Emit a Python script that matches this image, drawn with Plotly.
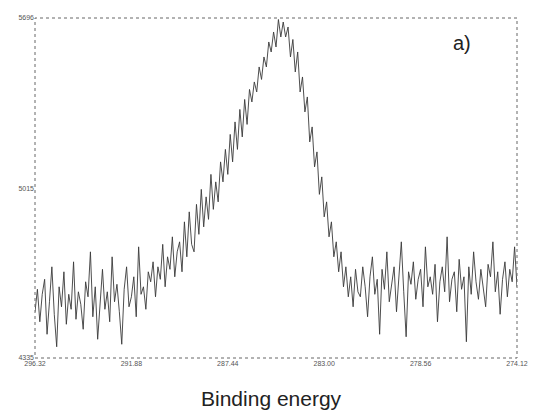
import numpy as np
import plotly.graph_objects as go

# Binding energy grid (eV), reversed axis
e_start = 296.32
e_end = 274.12

intensity = [
    4520, 4610, 4480, 4590, 4650, 4430, 4560, 4700, 4510, 4380,
    4620, 4540, 4680, 4470, 4590, 4530, 4720, 4490, 4600, 4550,
    4450, 4640, 4580, 4760, 4500, 4620, 4410, 4570, 4690, 4530,
    4600, 4480, 4740, 4560, 4630, 4520, 4390, 4610, 4700, 4540,
    4580, 4660, 4500, 4780, 4590, 4620, 4530, 4680,
    4640, 4720, 4580, 4700, 4650, 4790, 4620, 4740, 4690, 4820, 4660, 4760,
    4800, 4680, 4880, 4740, 4920, 4790, 4760, 4950, 4830, 5010, 4860, 4980, 4890, 5070, 4930,
    5040, 4960, 5120, 5040, 5170, 5070, 5230, 5120, 5280, 5170, 5330, 5220, 5370, 5270, 5410,
    5360, 5440, 5400, 5500, 5450, 5540, 5500, 5600, 5560, 5640, 5580, 5690, 5620, 5680,
    5620, 5660, 5540, 5610, 5480, 5560, 5400, 5460,
    5320, 5380, 5200, 5260, 5100, 5160, 4990, 5060,
    4900, 4960, 4820, 4880, 4740, 4800, 4680, 4760,
    4620, 4700, 4580, 4660, 4540, 4690, 4600,
    4580, 4700, 4620, 4500, 4660, 4740, 4590, 4650, 4430, 4690,
    4610, 4760, 4560, 4640, 4700, 4520, 4670, 4800, 4600, 4420,
    4680, 4630, 4720, 4570, 4650, 4690, 4540, 4780, 4620, 4660,
    4590, 4710, 4480, 4640, 4700, 4600, 4820, 4560, 4650, 4680,
    4520, 4730, 4610, 4660, 4400, 4700, 4590, 4760, 4640, 4570,
    4690, 4620, 4540, 4710, 4660, 4800, 4600, 4680, 4510, 4650,
    4720, 4580, 4690, 4640, 4780, 4620,
]

energy = np.linspace(e_start, e_end, len(intensity))

x_tick_vals = [296.32, 291.88, 287.44, 283.00, 278.56, 274.12]
x_tick_text = ["296.32", "291.88", "287.44", "283.00", "278.56", "274.12"]
y_tick_vals = [4335, 5015, 5696]
y_tick_text = ["4335", "5015", "5696"]

fig = go.Figure()
fig.add_trace(go.Scatter(
    x=energy, y=intensity, mode="lines",
    line=dict(color="#3a3a3a", width=0.9),
    showlegend=False,
))

fig.update_layout(
    width=542, height=418,
    margin=dict(l=35, r=25, t=18, b=60),
    paper_bgcolor="white", plot_bgcolor="white",
    font=dict(family="Liberation Sans, Arial, sans-serif", color="#333"),
    xaxis=dict(
        range=[e_start, e_end], showgrid=False, zeroline=False,
        tickvals=x_tick_vals, ticktext=x_tick_text,
        tickfont=dict(size=7, color="#555"), ticks="", ticklen=0,
        showline=False,
    ),
    yaxis=dict(
        range=[4335, 5696], showgrid=False, zeroline=False,
        tickvals=y_tick_vals, ticktext=y_tick_text,
        tickfont=dict(size=7, color="#555"), ticks="", showline=False,
    ),
    shapes=[dict(
        type="rect", xref="paper", yref="paper", x0=0, x1=1, y0=0, y1=1,
        line=dict(color="#666", width=1, dash="dot"),
    )],
    annotations=[
        dict(text="Binding energy", xref="paper", yref="paper",
             x=0.49, y=-0.08, xanchor="center", yanchor="top",
             showarrow=False, font=dict(size=21, color="#222")),
        dict(text="a)", xref="paper", yref="paper",
             x=0.885, y=0.925, xanchor="center", yanchor="middle",
             showarrow=False, font=dict(size=20, color="#222")),
    ],
)

fig.write_html("out.html")
